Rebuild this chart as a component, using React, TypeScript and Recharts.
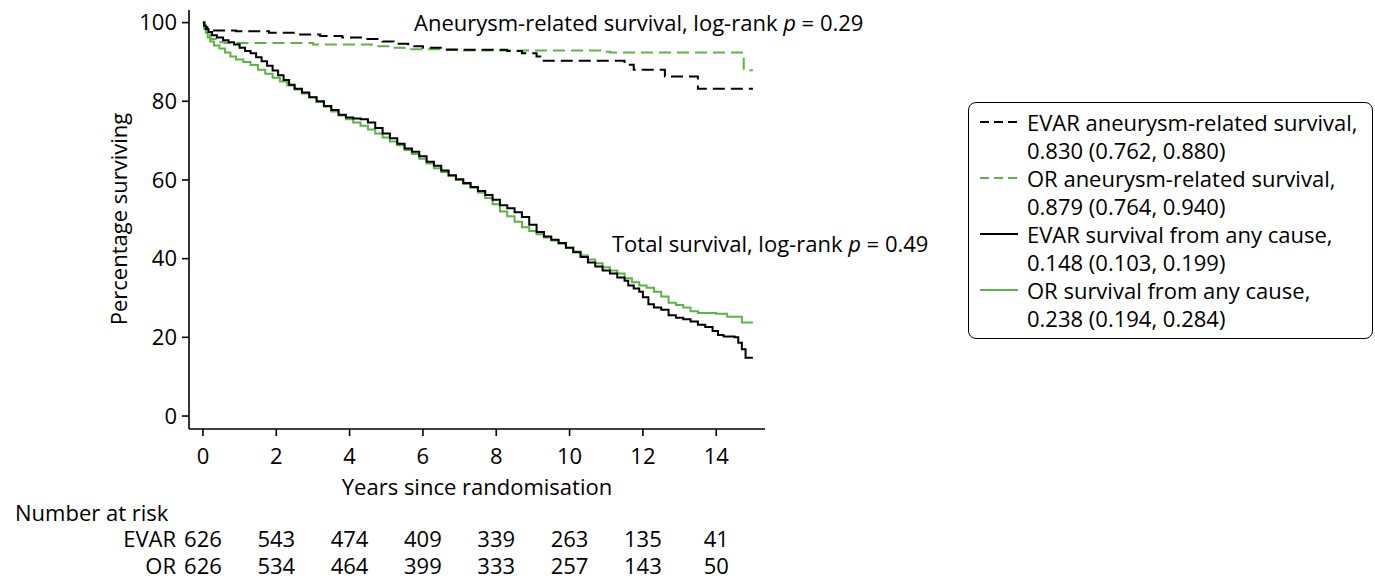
import React from 'react';
import { LineChart, Line, XAxis, YAxis } from 'recharts';

// ---- Data ----
const yearTicks = [0, 2, 4, 6, 8, 10, 12, 14];
const yTicks = [0, 20, 40, 60, 80, 100];
const riskEVAR = [626, 543, 474, 409, 339, 263, 135, 41];
const riskOR = [626, 534, 464, 399, 333, 257, 143, 50];

// EVAR survival from any cause (black solid)
const evarAllT = [0, 0.03, 0.08, 0.15, 0.25, 0.38, 0.55, 0.7, 0.85, 1.0, 1.15, 1.3, 1.45, 1.6, 1.75, 1.9, 2.05, 2.2, 2.35, 2.5, 2.7, 2.9, 3.1, 3.3, 3.5, 3.7, 3.9, 4.1, 4.3, 4.5, 4.7, 4.9, 5.1, 5.3, 5.5, 5.7, 5.9, 6.1, 6.3, 6.5, 6.7, 6.9, 7.1, 7.3, 7.5, 7.7, 7.9, 8.1, 8.3, 8.5, 8.7, 8.9, 9.1, 9.3, 9.5, 9.7, 9.9, 10.1, 10.3, 10.5, 10.7, 10.9, 11.1, 11.3, 11.5, 11.6, 11.75, 11.9, 12.0, 12.15, 12.3, 12.5, 12.7, 12.9, 13.1, 13.3, 13.5, 13.7, 13.9, 14.05, 14.2, 14.5, 14.6, 14.7, 14.8, 15.0];
const evarAllV = [100, 99.2, 98.4, 97.6, 96.8, 96.2, 95.5, 95, 94.4, 93.6, 92.8, 92.2, 91.2, 90.2, 89, 87.8, 86.6, 85.4, 84.2, 83.2, 82.2, 81, 80, 78.8, 77.8, 76.6, 75.9, 75.6, 75.4, 74.6, 73.2, 71.8, 70.6, 69.2, 68, 67.2, 66, 64.6, 63.6, 62.4, 61.2, 60.2, 59.2, 58.2, 57.2, 56.2, 55, 53.6, 52.8, 51.8, 50.6, 48.6, 46.8, 45.6, 44.8, 44, 42.8, 41.6, 40.4, 39, 38, 37, 36.2, 35.2, 34.4, 33.2, 32.4, 31.6, 30.2, 28.4, 27.6, 27, 25.6, 25, 24.6, 24, 23.2, 22.6, 21.6, 20.6, 20.2, 20, 18.6, 17, 14.8, 14.8];

// OR survival from any cause (green solid)
const orAllT = [0, 0.03, 0.08, 0.13, 0.2, 0.3, 0.45, 0.6, 0.75, 0.9, 1.1, 1.3, 1.5, 1.7, 1.9, 2.1, 2.3, 2.5, 2.7, 2.9, 3.1, 3.3, 3.5, 3.7, 3.9, 4.1, 4.3, 4.5, 4.7, 4.9, 5.1, 5.3, 5.5, 5.7, 5.9, 6.1, 6.3, 6.5, 6.7, 6.9, 7.1, 7.3, 7.5, 7.7, 7.9, 8.1, 8.3, 8.5, 8.7, 8.9, 9.1, 9.3, 9.5, 9.7, 9.9, 10.1, 10.3, 10.5, 10.7, 10.9, 11.1, 11.3, 11.5, 11.7, 11.9, 12.1, 12.3, 12.5, 12.7, 12.9, 13.1, 13.3, 13.5, 13.8, 14.0, 14.3, 14.6, 14.7, 15.0];
const orAllV = [100, 98.8, 97.4, 96.2, 95.2, 94.2, 93.4, 92.4, 91.4, 90.6, 90, 89.2, 88, 87, 86, 85, 84, 83, 82, 81, 79.8, 78.6, 77.4, 76.4, 75.4, 74.6, 73.8, 72.8, 71.8, 70.8, 69.8, 68.8, 67.6, 66.6, 65.4, 64.2, 63, 62, 61, 60, 59, 58, 56.8, 55.4, 53.8, 52, 50.8, 49.4, 48, 47, 46.2, 45.4, 44.6, 43.8, 42.8, 41.8, 40.8, 39.8, 38.8, 37.8, 37, 36.2, 35, 34, 33.2, 32.6, 31.6, 30.4, 28.8, 28.2, 27.6, 26.6, 26.2, 26.2, 26, 25.2, 25.2, 23.8, 23.8];

// EVAR aneurysm-related survival (black dashed)
const evarAnT = [0, 0.04, 0.12, 0.9, 1.8, 2.6, 3.2, 3.8, 4.4, 4.9, 5.2, 5.6, 6.0, 6.6, 8.3, 8.7, 9.1, 9.2, 11.5, 11.75, 12.6, 13.5, 15.0];
const evarAnV = [100, 98.8, 98.0, 97.8, 97.4, 97.0, 96.6, 96.2, 95.8, 95.2, 94.6, 94.0, 93.6, 93.1, 92.8, 92.2, 91.4, 90.3, 89.3, 88.0, 86.3, 83.2, 83.2];

// OR aneurysm-related survival (green dashed)
const orAnT = [0, 0.04, 0.1, 0.2, 0.35, 0.6, 3.0, 4.6, 5.1, 5.5, 7.0, 10.9, 11.1, 14.75, 15.0];
const orAnV = [100, 98.4, 97.0, 95.8, 95.0, 94.8, 94.4, 94.0, 93.6, 93.2, 92.9, 92.6, 92.4, 87.9, 87.9];

const zip = (ts: number[], vs: number[]) => ts.map((t, i) => ({ t, v: vs[i] }));
const evarAll = zip(evarAllT, evarAllV);
const orAll = zip(orAllT, orAllV);
const evarAn = zip(evarAnT, evarAnV);
const orAn = zip(orAnT, orAnV);

const GREEN = '#5db446';
const FONT = "'Open Sans', 'Noto Sans', sans-serif";
const FS = 22;

const legendItems = [
  { color: '#000', dash: '9 5', l1: 'EVAR aneurysm-related survival,', l2: '0.830 (0.762, 0.880)' },
  { color: GREEN, dash: '9 5', l1: 'OR aneurysm-related survival,', l2: '0.879 (0.764, 0.940)' },
  { color: '#000', dash: undefined, l1: 'EVAR survival from any cause,', l2: '0.148 (0.103, 0.199)' },
  { color: GREEN, dash: undefined, l1: 'OR survival from any cause,', l2: '0.238 (0.194, 0.284)' },
];

const XTick = (props: any) => {
  const { x, y, payload } = props;
  const idx = yearTicks.indexOf(payload.value);
  return (
    <g>
      <text x={x} y={y + 17} textAnchor="middle" dominantBaseline="central" fontSize={FS} fill="#000" fontFamily={FONT}>
        {payload.value}
      </text>
      <text x={x} y={y + 100} textAnchor="middle" dominantBaseline="central" fontSize={FS} fill="#000" fontFamily={FONT}>
        {riskEVAR[idx]}
      </text>
      <text x={x} y={y + 127} textAnchor="middle" dominantBaseline="central" fontSize={FS} fill="#000" fontFamily={FONT}>
        {riskOR[idx]}
      </text>
    </g>
  );
};

export default function App() {
  return (
    <div style={{ position: 'absolute', left: 0, top: 0, width: 1375, height: 581, background: '#fff', fontFamily: FONT }}>
      <LineChart
        width={1375}
        height={581}
        margin={{ top: 10, right: 610, left: 129, bottom: 122 }}
        style={{ fontFamily: FONT }}
      >
        <XAxis
          dataKey="t"
          type="number"
          domain={[-0.38, 15.33]}
          ticks={yearTicks}
          allowDataOverflow
          height={30}
          tickSize={7}
          tickMargin={2}
          tick={<XTick />}
          axisLine={{ stroke: '#000', strokeWidth: 1.6 }}
          tickLine={{ stroke: '#000', strokeWidth: 1.6 }}
        />
        <YAxis
          type="number"
          domain={[-3.3, 103.2]}
          ticks={yTicks}
          allowDataOverflow
          width={60}
          tickSize={7}
          tickMargin={5}
          tick={{ fontSize: FS, fill: '#000', fontFamily: FONT }}
          axisLine={{ stroke: '#000', strokeWidth: 1.6 }}
          tickLine={{ stroke: '#000', strokeWidth: 1.6 }}
        />
        <Line data={orAn} dataKey="v" name="OR aneurysm-related survival" type="stepAfter" stroke={GREEN} strokeWidth={2} strokeDasharray="12 6" dot={false} isAnimationActive={false} />
        <Line data={evarAn} dataKey="v" name="EVAR aneurysm-related survival" type="stepAfter" stroke="#000" strokeWidth={2} strokeDasharray="12 6" dot={false} isAnimationActive={false} />
        <Line data={orAll} dataKey="v" name="OR survival from any cause" type="stepAfter" stroke={GREEN} strokeWidth={2} dot={false} isAnimationActive={false} />
        <Line data={evarAll} dataKey="v" name="EVAR survival from any cause" type="stepAfter" stroke="#000" strokeWidth={2} dot={false} isAnimationActive={false} />
      </LineChart>

      <svg width={1375} height={581} style={{ position: 'absolute', left: 0, top: 0, pointerEvents: 'none' }}>
        <g fontFamily={FONT} fontSize={FS} fill="#000">
          <text x={118} y={219} textAnchor="middle" dominantBaseline="central" transform="rotate(-90 118 219)">Percentage surviving</text>
          <text x={477} y={486} textAnchor="middle" dominantBaseline="central">Years since randomisation</text>
          <text x={414} y={22} dominantBaseline="central">
            Aneurysm-related survival, log-rank <tspan fontStyle="italic">p</tspan> = 0.29
          </text>
          <text x={612} y={243} dominantBaseline="central">
            Total survival, log-rank <tspan fontStyle="italic">p</tspan> = 0.49
          </text>
          <text x={15} y={512} dominantBaseline="central">Number at risk</text>
          <text x={176} y={538} textAnchor="end" dominantBaseline="central">EVAR</text>
          <text x={176} y={565} textAnchor="end" dominantBaseline="central">OR</text>
        </g>
      </svg>

      <div
        style={{
          position: 'absolute',
          left: 968,
          top: 102,
          width: 405,
          height: 237,
          boxSizing: 'border-box',
          border: '1.6px solid #000',
          borderRadius: 8,
          paddingTop: 5,
          fontSize: FS,
          lineHeight: '28px',
          color: '#000',
        }}
      >
        {legendItems.map((it, i) => (
          <div key={i} style={{ position: 'relative', paddingLeft: 58, whiteSpace: 'nowrap' }}>
            <svg width={40} height={10} style={{ position: 'absolute', left: 11, top: 9 }}>
              <line x1={0} y1={5} x2={38} y2={5} stroke={it.color} strokeWidth={2} strokeDasharray={it.dash} />
            </svg>
            <div>{it.l1}</div>
            <div>{it.l2}</div>
          </div>
        ))}
      </div>
    </div>
  );
}
